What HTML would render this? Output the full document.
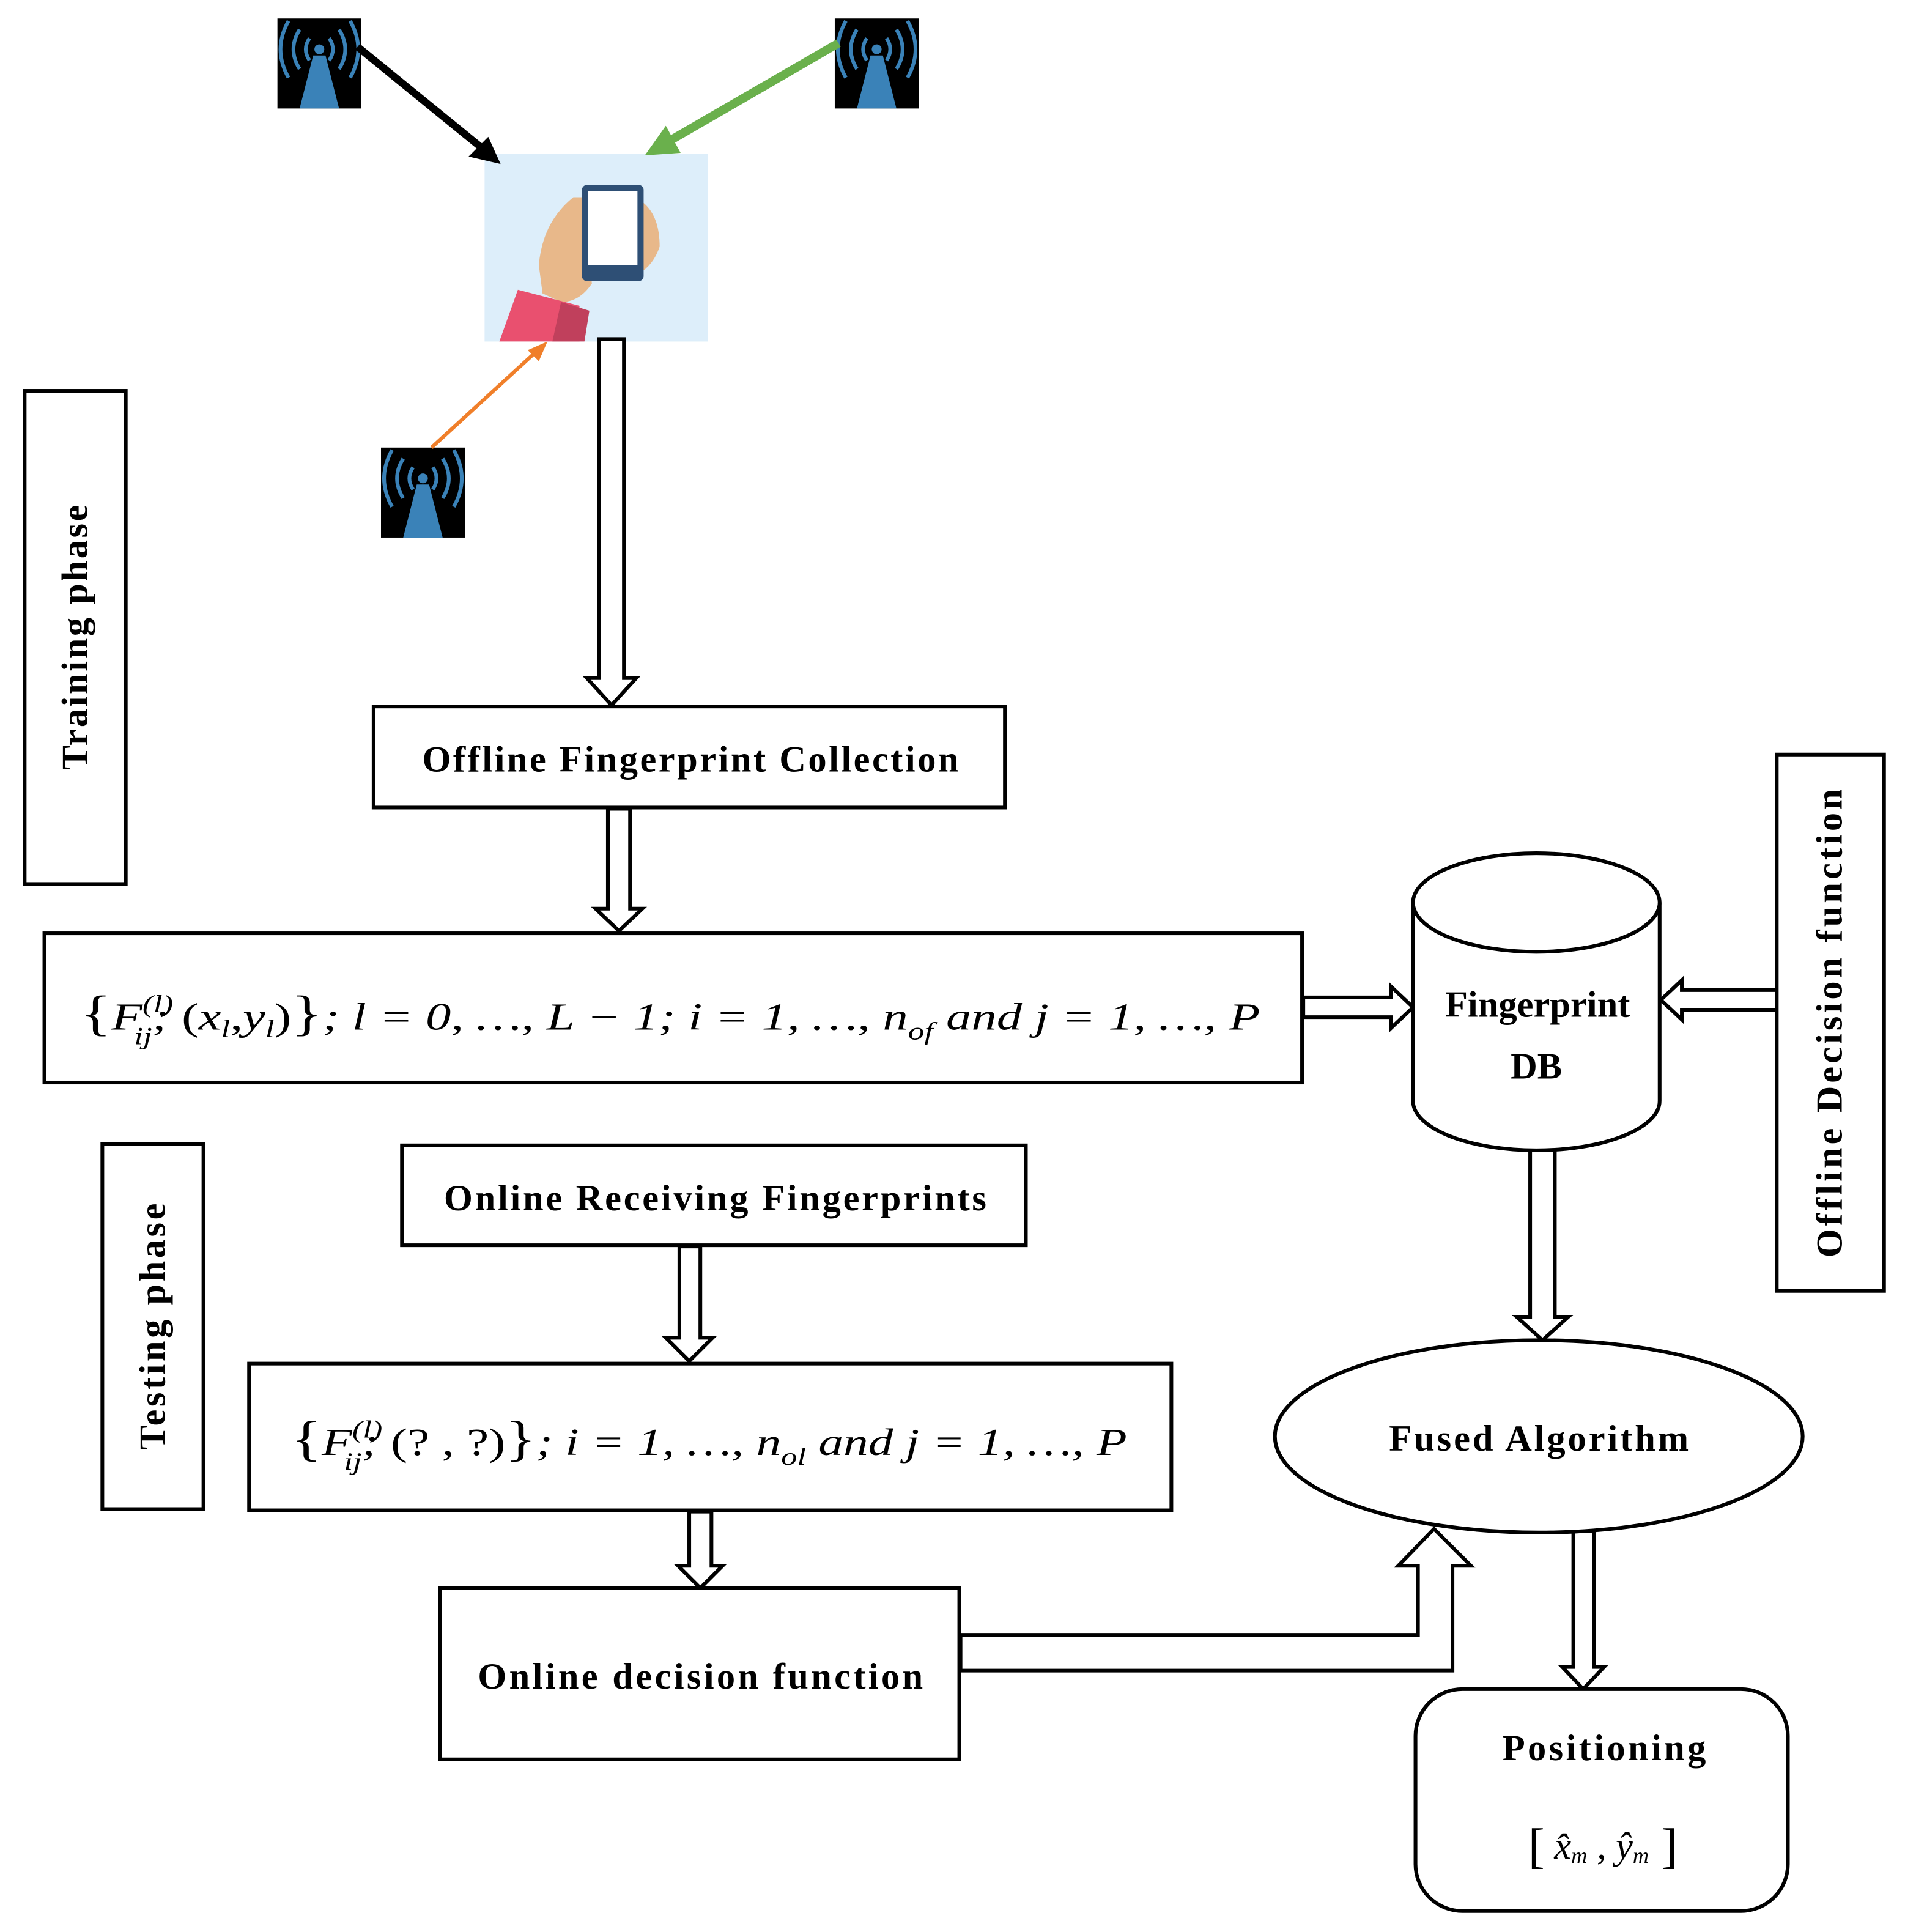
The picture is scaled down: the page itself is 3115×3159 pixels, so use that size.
<!DOCTYPE html>
<html><head><meta charset="utf-8"><style>
html,body{margin:0;padding:0;background:#fff}
svg{display:block}
text{font-family:"Liberation Serif",serif;fill:#000}
.lbl{font-size:30px;font-weight:bold}
.m{font-size:31px;font-style:italic}
</style></head><body>
<svg width="3115" height="3159" viewBox="0 0 1545 1567" preserveAspectRatio="none" xmlns="http://www.w3.org/2000/svg">
<defs>
<g id="tower">
<rect x="0" y="0" width="68" height="73" fill="#000"/>
<polygon points="29,30 39,30 50,73 18,73" fill="#3a82b8"/>
<circle cx="34" cy="25" r="4" fill="#3a82b8"/>
<g fill="none" stroke="#3a82b8" stroke-width="3">
<path d="M26,16 Q20,25 26,34"/><path d="M42,16 Q48,25 42,34"/>
<path d="M18,9 Q8,25 18,41"/><path d="M50,9 Q60,25 50,41"/>
<path d="M9,2 Q-4,25 9,48"/><path d="M59,2 Q72,25 59,48"/>
</g>
</g>
</defs>
<use href="#tower" x="225" y="15"/>
<use href="#tower" x="677" y="15"/>
<use href="#tower" x="309" y="363"/>
<rect x="393" y="125" width="181" height="152" fill="#ddeefa"/>
<path d="M437,215 Q440,180 465,160 L475,160 L480,230 Q470,245 455,245 L440,238 Z" fill="#e8b88a"/>
<path d="M515,160 Q535,170 535,200 Q530,215 518,222 Z" fill="#e8b88a"/>
<polygon points="405,277 420,235 470,248 470,277" fill="#e9506f"/>
<polygon points="448,277 455,245 478,252 474,277" fill="#c0405c"/>
<rect x="472" y="150" width="50" height="78" rx="4" fill="#2e4f75"/>
<rect x="477" y="155" width="40" height="60" fill="#fff"/>
<line x1="290" y1="38" x2="392" y2="121" stroke="#000" stroke-width="6"/>
<polygon points="406,133 380,127 396,111" fill="#000"/>
<line x1="680" y1="35" x2="540" y2="116" stroke="#6ab04c" stroke-width="7"/>
<polygon points="523,126 540,102 552,124" fill="#6ab04c"/>
<line x1="350" y1="363" x2="434" y2="286" stroke="#f07f2a" stroke-width="3"/>
<polygon points="444,277 428,284 437,293" fill="#f07f2a"/>
<g fill="#fff" stroke="#000" stroke-width="3" stroke-linejoin="miter">
<polygon points="486,275 506,275 506,550 516,550 496,572 476,550 486,550"/>
<polygon points="493,656 511,656 511,737 521,737 502,755 483,737 493,737"/>
<polygon points="1057,809 1128,809 1128,800 1146,817 1128,834 1128,825 1057,825"/>
<polygon points="1441,803 1364,803 1364,795 1347,811 1364,827 1364,819 1441,819"/>
<polygon points="1241,933 1261,933 1261,1068 1272,1068 1251,1087 1230,1068 1241,1068"/>
<polygon points="551,1011 568,1011 568,1085 578,1085 559,1104 540,1085 551,1085"/>
<polygon points="559,1226 577,1226 577,1270 586,1270 568,1288 550,1270 559,1270"/>
<polygon points="1276,1242 1293,1242 1293,1352 1301,1352 1284,1370 1267,1352 1276,1352"/>
<polygon points="779,1326 1150,1326 1150,1270 1134,1270 1163,1240 1193,1270 1178,1270 1178,1355 779,1355"/>
</g>
<g fill="#fff" stroke="#000" stroke-width="3">
<rect x="20" y="317" width="82" height="400"/>
<rect x="303" y="573" width="512" height="82"/>
<rect x="36" y="757" width="1020" height="121"/>
<rect x="1441" y="612" width="87" height="435"/>
<rect x="83" y="928" width="82" height="296"/>
<rect x="326" y="929" width="506" height="81"/>
<rect x="202" y="1106" width="748" height="119"/>
<rect x="357" y="1288" width="421" height="139"/>
<rect x="1148" y="1370" width="302" height="180" rx="38"/>
<path d="M1146,732 L1146,893 A100,40 0 0 0 1346,893 L1346,732"/>
<ellipse cx="1246" cy="732" rx="100" ry="40"/>
<ellipse cx="1248" cy="1165" rx="214" ry="78"/>
</g>
<text class="lbl" x="61" y="517" text-anchor="middle" dominant-baseline="central" transform="rotate(-90 61 517)" textLength="215" lengthAdjust="spacing">Training phase</text>
<text class="lbl" x="124" y="1076" text-anchor="middle" dominant-baseline="central" transform="rotate(-90 124 1076)" textLength="200" lengthAdjust="spacing">Testing phase</text>
<text class="lbl" x="1484" y="830" text-anchor="middle" dominant-baseline="central" transform="rotate(-90 1484 830)" textLength="380" lengthAdjust="spacing">Offline Decision  function</text>
<text class="lbl" x="560" y="616" text-anchor="middle" dominant-baseline="central" textLength="435" lengthAdjust="spacing">Offline Fingerprint Collection</text>
<text class="lbl" x="580" y="972" text-anchor="middle" dominant-baseline="central" textLength="440" lengthAdjust="spacing">Online Receiving Fingerprints</text>
<text class="lbl" x="568" y="1360" text-anchor="middle" dominant-baseline="central" textLength="361" lengthAdjust="spacing">Online decision function</text>
<text class="lbl" x="1248" y="1167" text-anchor="middle" dominant-baseline="central" textLength="243" lengthAdjust="spacing">Fused Algorithm</text>
<text class="lbl" x="1247" y="815" text-anchor="middle" dominant-baseline="central" textLength="150" lengthAdjust="spacing">Fingerprint</text>
<text class="lbl" x="1246" y="865" text-anchor="middle" dominant-baseline="central">DB</text>
<text class="lbl" x="1301" y="1418" text-anchor="middle" dominant-baseline="central" textLength="165" lengthAdjust="spacing">Positioning</text>
<text class="m" x="1300" y="1497" text-anchor="middle" dominant-baseline="central"><tspan font-style="normal" font-size="40">[</tspan> x̂<tspan font-size="18" dy="8">m</tspan><tspan dy="-8"> , ŷ</tspan><tspan font-size="18" dy="8">m</tspan><tspan dy="-8" font-style="normal" font-size="40"> ]</tspan></text>
<text class="m" x="65" y="835" textLength="957" lengthAdjust="spacingAndGlyphs"><tspan font-style="normal" font-size="40">{</tspan>F<tspan font-size="20" dy="-14">(l)</tspan><tspan font-size="20" dx="-24" dy="26">ij</tspan><tspan dy="-12">;  </tspan><tspan font-style="normal">(</tspan>x<tspan font-size="20" dy="6">l</tspan><tspan dy="-6" font-style="normal">,</tspan>y<tspan font-size="20" dy="6">l</tspan><tspan dy="-6" font-style="normal">)</tspan><tspan font-style="normal" font-size="40">}</tspan>; l = 0, …, L − 1; i = 1, …, n<tspan font-size="20" dy="8">of</tspan><tspan dy="-8"> and j = 1, …, P</tspan></text>
<text class="m" x="236" y="1180" textLength="678" lengthAdjust="spacingAndGlyphs"><tspan font-style="normal" font-size="40">{</tspan>F<tspan font-size="20" dy="-14">(l)</tspan><tspan font-size="20" dx="-24" dy="26">ij</tspan><tspan dy="-12">;  </tspan><tspan font-style="normal">(? , ?)</tspan><tspan font-style="normal" font-size="40">}</tspan>; i = 1, …, n<tspan font-size="20" dy="8">ol</tspan><tspan dy="-8"> and j = 1, …, P</tspan></text>
</svg>
</body></html>
